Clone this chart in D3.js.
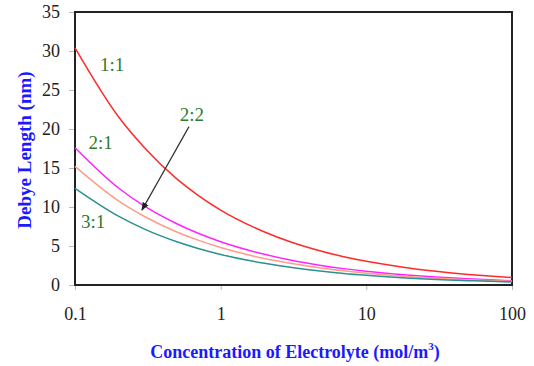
<!DOCTYPE html>
<html>
<head>
<meta charset="utf-8">
<script src="https://cdn.jsdelivr.net/npm/d3@7"></script>
<style>
  body { margin: 0; background: #fff; }
  svg text { font-family: "Liberation Serif", "Times New Roman", "DejaVu Serif", serif; }
</style>
</head>
<body>
<svg id="chart"></svg>
<script>
// concentration (mol/m^3) and Debye length (nm)
const conc = [0.1, 0.2, 0.3, 0.5, 0.7, 1, 2, 3, 5, 7, 10, 20, 30, 50, 70, 100];
const len11 = [30.4, 21.5, 17.6, 13.6, 11.5, 9.6, 6.8, 5.55, 4.3, 3.63, 3.04, 2.15, 1.76, 1.36, 1.15, 0.96];
const len21 = [17.6, 12.4, 10.1, 7.85, 6.63, 5.55, 3.93, 3.2, 2.48, 2.1, 1.76, 1.24, 1.01, 0.79, 0.66, 0.55];
const len22 = [15.2, 10.75, 8.78, 6.8, 5.75, 4.8, 3.4, 2.78, 2.15, 1.82, 1.52, 1.07, 0.88, 0.68, 0.57, 0.48];
const len31 = [12.4, 8.8, 7.17, 5.55, 4.69, 3.92, 2.78, 2.27, 1.76, 1.48, 1.24, 0.88, 0.72, 0.56, 0.47, 0.39];
const seriesNames = ["1:1", "2:1", "2:2", "3:1"];
const seriesColors = ["#ff2a2a", "#ff22ff", "#ff9c8c", "#2a9090"];
const xTicks = [0.1, 1, 10, 100];
const yTicks = [0, 5, 10, 15, 20, 25, 30, 35];

const W = 534, H = 366;
const margin = { left: 75, top: 12, right: 22, bottom: 81 };

const svg = d3.select('#chart')
  .attr('width', W)
  .attr('height', H);

const x = d3.scaleLog().domain([0.1, 100]).range([margin.left, W - margin.right]);
const y = d3.scaleLinear().domain([0, 35]).range([H - margin.bottom, margin.top]);

// axes
const xAxis = svg.append('g')
  .attr('transform', `translate(0,${H - margin.bottom})`)
  .call(d3.axisBottom(x).tickValues(xTicks).tickFormat(d3.format('')).tickSize(5).tickPadding(17));
const yAxis = svg.append('g')
  .attr('transform', `translate(${margin.left},0)`)
  .call(d3.axisLeft(y).tickValues(yTicks).tickSize(6).tickPadding(9));

[xAxis, yAxis].forEach(a => {
  a.attr('font-family', null);
  a.select('.domain').remove();
  a.selectAll('line').attr('stroke', '#bbb');
  a.selectAll('text').attr('font-size', 18).attr('fill', '#222');
});

// plot frame
svg.append('rect')
  .attr('x', margin.left).attr('y', margin.top)
  .attr('width', W - margin.left - margin.right)
  .attr('height', H - margin.top - margin.bottom)
  .attr('fill', 'none').attr('stroke', '#222').attr('stroke-width', 2);

// curves
const seriesData = [len11, len21, len22, len31];
const line = d3.line()
  .x(d => x(d[0]))
  .y(d => y(d[1]))
  .curve(d3.curveMonotoneX);

seriesData.forEach((vals, i) => {
  svg.append('path')
    .datum(conc.map((c, j) => [c, vals[j]]))
    .attr('d', line)
    .attr('fill', 'none')
    .attr('stroke', seriesColors[i])
    .attr('stroke-width', 1.5);
});

// series labels
const labelPos = [[0.18, 27.5], [0.15, 17.4], [0.635, 21.0], [0.133, 7.3]];
seriesNames.forEach((n, i) => {
  svg.append('text')
    .attr('x', x(labelPos[i][0]))
    .attr('y', y(labelPos[i][1]))
    .attr('font-size', 19)
    .attr('fill', '#2f7a2f')
    .attr('text-anchor', 'middle')
    .text(n);
});

// arrow pointing to the 2:2 curve
svg.append('defs').append('marker')
  .attr('id', 'arr')
  .attr('viewBox', '0 0 10 10')
  .attr('refX', 9).attr('refY', 5)
  .attr('markerWidth', 7).attr('markerHeight', 7)
  .attr('orient', 'auto')
  .append('path').attr('d', 'M0,1L10,5L0,9Z').attr('fill', '#222');

svg.append('line')
  .attr('x1', x(0.606)).attr('y1', y(20.3))
  .attr('x2', x(0.288)).attr('y2', y(9.6))
  .attr('stroke', '#333').attr('stroke-width', 1.2)
  .attr('marker-end', 'url(#arr)');

// axis titles
svg.append('text')
  .attr('x', 295).attr('y', 358)
  .attr('text-anchor', 'middle')
  .attr('font-size', 18).attr('font-weight', 'bold')
  .attr('fill', '#1a1aff')
  .html('Concentration of Electrolyte (mol/m<tspan dy="-8" font-size="11">3</tspan><tspan dy="8">)</tspan>');

svg.append('text')
  .attr('transform', 'translate(31,150) rotate(-90)')
  .attr('text-anchor', 'middle')
  .attr('font-size', 19).attr('font-weight', 'bold')
  .attr('fill', '#1a1aff')
  .text('Debye Length (nm)');
</script>
</body>
</html>
